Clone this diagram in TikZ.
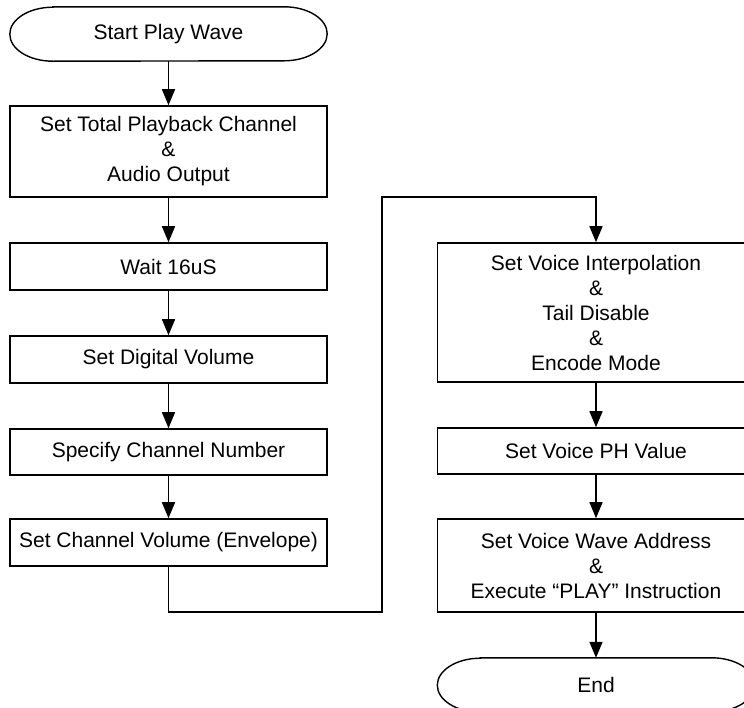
\documentclass[tikz,border=0pt]{standalone}
\usepackage{fontspec}
\setmainfont{Liberation Sans}
\usetikzlibrary{arrows.meta}
\tikzset{
  procbox/.style={draw, line width=1.6pt, minimum width=317pt, align=center,
    inner sep=0pt, font=\fontsize{21pt}{25pt}\selectfont},
  termbox/.style={minimum width=317pt, minimum height=54pt, inner sep=0pt,
    font=\fontsize{21pt}{25pt}\selectfont},
  flow/.style={line width=1.6pt, -{Triangle[width=13pt,length=16pt]}},
  wire/.style={line width=1.6pt},
  termline/.style={line width=1.4pt}
}
% terminator outline: flat top and bottom with elliptical ends
\newcommand{\terminator}[1]{%
  \draw[termline] ([xshift=43pt]#1.north west) -- ([xshift=-43pt]#1.north east)
    arc[start angle=90,end angle=-90,x radius=43pt,y radius=27pt]
    -- ([xshift=43pt]#1.south west)
    arc[start angle=270,end angle=90,x radius=43pt,y radius=27pt] -- cycle;}
\begin{document}
\begin{tikzpicture}[x=1pt,y=-1pt]
\useasboundingbox (0,0) rectangle (744,707);
\clip (0,0) rectangle (744,707);
\fill[white] (0,0) rectangle (744,707);

% left column
\node[termbox] (start) at (168.5,34) {Start Play Wave};
\terminator{start}
\node[procbox, minimum height=91pt] (total) at (168.5,151.5)
  {Set Total Playback Channel\\\&\\Audio Output};
\node[procbox, minimum height=47pt] (wait) at (168.5,266.5) {Wait 16uS};
\node[procbox, minimum height=47pt] (digvol) at (168.5,359.5) {Set Digital Volume};
\node[procbox, minimum height=46pt] (chnum) at (168.5,452) {Specify Channel Number};
\node[procbox, minimum height=47pt] (chvol) at (168.5,542.5) {Set Channel Volume (Envelope)};

% right column
\node[procbox, minimum height=139pt] (interp) at (596,312.5)
  {Set Voice Interpolation\\\&\\Tail Disable\\\&\\Encode Mode};
\node[procbox, minimum height=46pt] (ph) at (596,451) {Set Voice PH Value};
\node[procbox, minimum height=93pt] (play) at (596,565.5)
  {Set Voice Wave Address\\\&\\Execute “PLAY” Instruction};
\node[termbox] (end) at (596,685) {End};
\terminator{end}

% connectors
\draw[flow] (start) -- (total);
\draw[flow] (total) -- (wait);
\draw[flow] (wait) -- (digvol);
\draw[flow] (digvol) -- (chnum);
\draw[flow] (chnum) -- (chvol);
\coordinate (lowturn) at (382,612);
\coordinate (highturn) at (382,197);
\draw[flow] (chvol.south) |- (lowturn) -- (highturn) -| (interp.north);
\draw[flow] (interp) -- (ph);
\draw[flow] (ph) -- (play);
\draw[flow] (play) -- (end.north);
\end{tikzpicture}
\end{document}
